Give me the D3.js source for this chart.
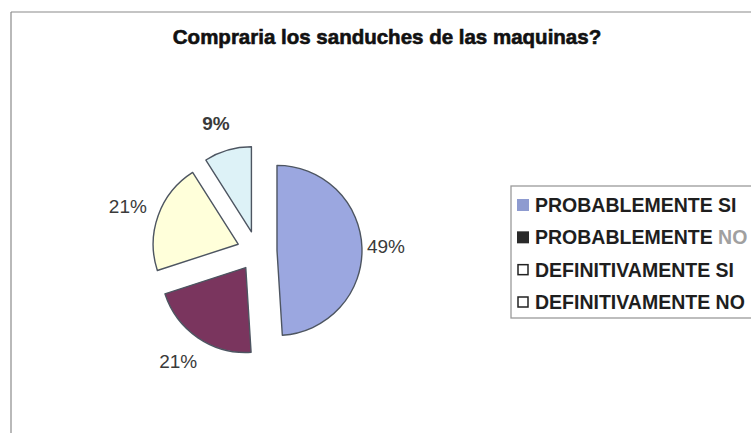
<!DOCTYPE html>
<html>
<head>
<meta charset="utf-8">
<script src="https://cdn.jsdelivr.net/npm/d3@7"></script>
<style>
  html, body { margin: 0; padding: 0; background: #fff; }
  svg { display: block; }
  text { font-family: "Liberation Sans", Arial, sans-serif; }
</style>
</head>
<body>
<svg id="chart" width="751" height="433"></svg>
<script>
// Survey answers and their shares (percent)
const categories = ["PROBABLEMENTE SI", "PROBABLEMENTE NO", "DEFINITIVAMENTE SI", "DEFINITIVAMENTE NO"];
const values = [49, 21, 21, 9];
const sliceColors = ["#9ba7e0", "#7a355e", "#ffffda", "#ddf2f7"];
const swatchColors = ["#8e9bd0", "#2a2a2a", "#ffffff", "#ffffff"];
const title = "Compraria los sanduches de las maquinas?";

const svg = d3.select("#chart");
const W = 751, H = 433;

// Outer chart frame (top and left edges visible)
svg.append("line").attr("x1", 11).attr("y1", 12).attr("x2", W).attr("y2", 12)
  .attr("stroke", "#8a8a8a").attr("stroke-width", 1.2);
svg.append("line").attr("x1", 11).attr("y1", 12).attr("x2", 11).attr("y2", H)
  .attr("stroke", "#8a8a8a").attr("stroke-width", 1.2);

// Title (heavy bold)
svg.append("text")
  .attr("x", 387).attr("y", 44)
  .attr("text-anchor", "middle")
  .attr("font-size", 20.5).attr("font-weight", "bold").attr("fill", "#111")
  .attr("stroke", "#111").attr("stroke-width", 0.6)
  .text(title);

// Exploded pie
const cx = 257, cy = 251, radius = 85, explode = 20, labelR = 133;
const pie = d3.pie().sort(null).value(d => d)(values);
const arc = d3.arc().innerRadius(0).outerRadius(radius);
const pct = d3.format(".0%");
const total = d3.sum(values);

const g = svg.append("g").attr("transform", `translate(${cx},${cy})`);
const mid = d => (d.startAngle + d.endAngle) / 2;

g.selectAll("path.slice").data(pie).join("path")
  .attr("class", "slice")
  .attr("d", arc)
  .attr("transform", d => `translate(${Math.sin(mid(d)) * explode},${-Math.cos(mid(d)) * explode})`)
  .attr("fill", (d, i) => sliceColors[i])
  .attr("stroke", "#4d5561")
  .attr("stroke-width", 1.4)
  .attr("stroke-linejoin", "round");

// Percentage labels, placed a little left of the pie centre line
g.selectAll("text.lbl").data(pie).join("text")
  .attr("class", "lbl")
  .attr("x", d => Math.sin(mid(d)) * labelR - 4)
  .attr("y", d => -Math.cos(mid(d)) * labelR)
  .attr("dy", "0.35em")
  .attr("text-anchor", "middle")
  .attr("font-size", 19)
  .attr("font-weight", (d, i) => i === 3 ? "bold" : "normal")
  .attr("fill", "#3a3a3a")
  .text(d => pct(d.data / total));

// Legend
const lx = 511, ly = 186, lh = 132;
svg.append("rect").attr("x", lx).attr("y", ly).attr("width", W - lx + 20).attr("height", lh)
  .attr("fill", "#fff").attr("stroke", "#9a9a9a").attr("stroke-width", 1.3);

const rowY = d3.scalePoint().domain(categories).range([205, 302]);
const rows = svg.selectAll("g.item").data(categories).join("g")
  .attr("class", "item")
  .attr("transform", d => `translate(0,${rowY(d)})`);

rows.append("rect")
  .attr("x", (d, i) => i < 2 ? 517 : 518)
  .attr("y", (d, i) => i < 2 ? -6 : -5)
  .attr("width", (d, i) => i < 2 ? 12 : 10)
  .attr("height", (d, i) => i < 2 ? 12 : 10)
  .attr("fill", (d, i) => swatchColors[i])
  .attr("stroke", (d, i) => i < 2 ? "none" : "#222")
  .attr("stroke-width", 1.5);

const txt = rows.append("text")
  .attr("x", 535).attr("dy", "0.36em")
  .attr("font-size", 19.5).attr("font-weight", "bold").attr("fill", "#1e1e1e");
txt.each(function(d, i) {
  const t = d3.select(this);
  if (i === 1) {
    const parts = d.split(" ");
    t.append("tspan").text(parts[0] + " ");
    t.append("tspan").attr("fill", "#a0a0a0").text(parts[1]);
  } else {
    t.text(d);
  }
});
</script>
</body>
</html>
